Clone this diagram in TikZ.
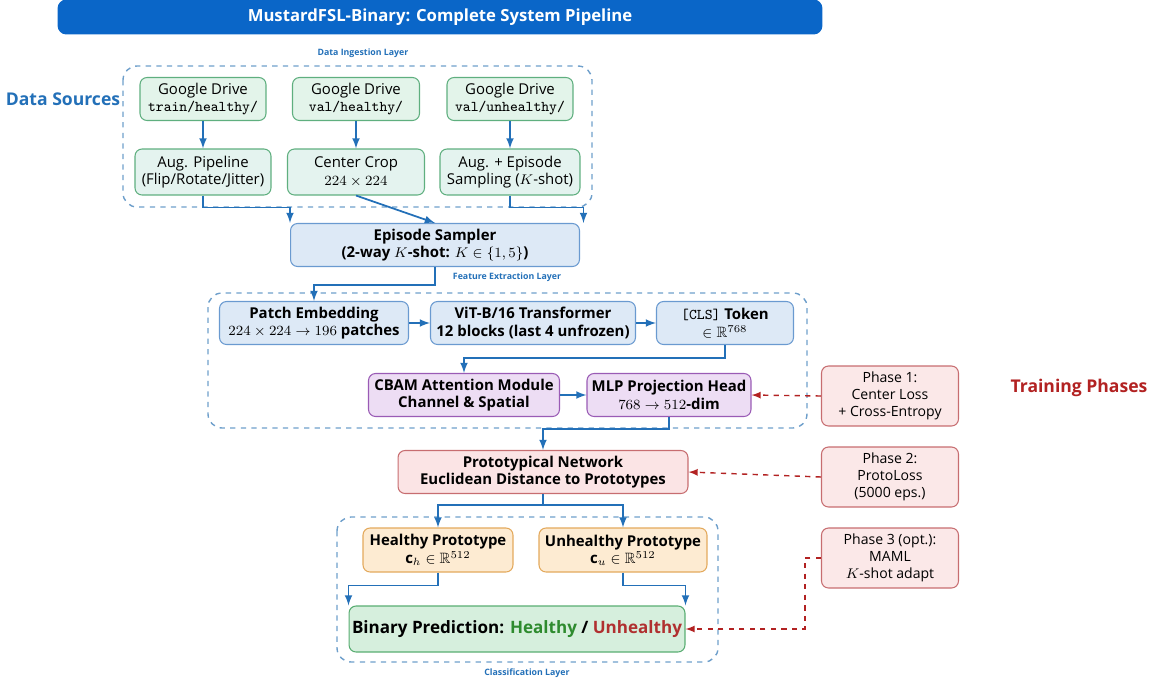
\documentclass[tikz,border=0pt]{standalone}
\usepackage{amssymb}
\usepackage{fontspec}
\setmainfont{Open Sans}
\usetikzlibrary{arrows}

\definecolor{titleblue}{HTML}{0A66C8}
\definecolor{flowblue}{HTML}{2370B8}
\definecolor{layerblue}{HTML}{6E9FCB}
\definecolor{phasered}{HTML}{B22222}
\definecolor{goodgreen}{HTML}{2E8B2E}
\definecolor{badred}{HTML}{B03030}
\definecolor{srcfill}{HTML}{E3F4EA}
\definecolor{srcline}{HTML}{5FAF7F}
\definecolor{prepfill}{HTML}{E4F3EF}
\definecolor{featfill}{HTML}{DDE9F6}
\definecolor{featline}{HTML}{6A9AD0}
\definecolor{attnfill}{HTML}{EDDDF4}
\definecolor{attnline}{HTML}{9A5BB5}
\definecolor{protofill}{HTML}{FBE4E5}
\definecolor{protoline}{HTML}{C76D70}
\definecolor{cprotofill}{HTML}{FDEBD2}
\definecolor{cprotoline}{HTML}{E3A95C}
\definecolor{predfill}{HTML}{D6EFDD}
\definecolor{predline}{HTML}{59AD72}
\definecolor{phasefill}{HTML}{FBE8E8}

\begin{document}
\begin{tikzpicture}[x=0.02cm, y=-0.02cm, font=\fontsize{8.5}{10}\selectfont]
    \tikzset{box/.style = {shape=rectangle, rounded corners=4pt, draw, line width=0.6pt, align=center, inner sep=1pt}}
    \tikzset{src/.style = {box, draw=srcline, fill=srcfill, minimum height=0.86cm}}
    \tikzset{prep/.style = {box, draw=srcline, fill=prepfill, minimum height=0.92cm}}
    \tikzset{feat/.style = {box, draw=featline, fill=featfill, minimum height=0.86cm, font=\fontsize{8.5}{10}\selectfont\bfseries}}
    \tikzset{attn/.style = {box, draw=attnline, fill=attnfill, minimum height=0.86cm, font=\fontsize{8.5}{10}\selectfont\bfseries}}
    \tikzset{proto/.style = {box, draw=protoline, fill=protofill, minimum height=0.86cm, font=\fontsize{8.5}{10}\selectfont\bfseries}}
    \tikzset{cproto/.style = {box, draw=cprotoline, fill=cprotofill, minimum height=0.88cm, font=\fontsize{8.5}{10}\selectfont\bfseries}}
    \tikzset{phase/.style = {box, draw=protoline, fill=phasefill, minimum width=2.74cm, minimum height=1.2cm, font=\fontsize{8}{9.5}\selectfont}}
    \tikzset{layer/.style = {draw=layerblue, dashed, line width=0.8pt, rounded corners=8pt}}
    \tikzset{layername/.style = {text=flowblue, font=\fontsize{5}{6}\selectfont\bfseries}}
    \tikzset{flow/.style = {draw=flowblue, line width=1pt, -latex}}
    \tikzset{train/.style = {draw=phasered, line width=0.8pt, dashed, -latex}}

    \useasboundingbox (0,0) rectangle (1160,683);

    % title
    \node[shape=rectangle, rounded corners=5pt, fill=titleblue, text=white, minimum width=15.3cm, minimum height=0.7cm, font=\fontsize{9.5}{11}\selectfont\bfseries] (title) at (440,17) {MustardFSL-Binary: Complete System Pipeline};

    % layers
    \draw[layer] (123,66) rectangle (592,207);
    \draw[layer] (208,293) rectangle (807,428);
    \draw[layer] (337,517) rectangle (718,662);
    \node[layername] (ingest) at (363,53) {Data Ingestion Layer};
    \node[layername] (extract) at (507,277) {Feature Extraction Layer};
    \node[layername] (classify) at (527,673) {Classification Layer};
    \node[text=flowblue, font=\fontsize{10}{12}\selectfont\bfseries] (sources) at (63,99) {Data Sources};
    \node[text=phasered, font=\fontsize{10}{12}\selectfont\bfseries] (phases) at (1079,388) {Training Phases};

    % vertices
    \node[src, minimum width=2.52cm] (g1) at (203,99) {Google Drive\\\texttt{train/healthy/}};
    \node[src, minimum width=2.54cm] (g2) at (356,99) {Google Drive\\\texttt{val/healthy/}};
    \node[src, minimum width=2.52cm] (g3) at (510,99) {Google Drive\\\texttt{val/unhealthy/}};
    \node[prep, minimum width=2.72cm] (a1) at (203,172) {Aug. Pipeline\\(Flip/Rotate/Jitter)};
    \node[prep, minimum width=2.74cm] (a2) at (356,172) {Center Crop\\$224\times224$};
    \node[prep, minimum width=2.8cm] (a3) at (510,172) {Aug. + Episode\\Sampling ($K$-shot)};
    \node[feat, minimum width=5.78cm] (sampler) at (435,245) {Episode Sampler\\(2-way $K$-shot: $K\in\{1,5\}$)};
    \node[feat, minimum width=3.78cm] (patch) at (314,323) {Patch Embedding\\$224\times224\to196$ patches};
    \node[feat, minimum width=4.1cm] (vit) at (533,323) {ViT-B/16 Transformer\\12 blocks (last 4 unfrozen)};
    \node[feat, minimum width=2.74cm] (cls) at (725,323) {\texttt{\mdseries[CLS]} Token\\$\in\mathbb{R}^{768}$};
    \node[attn, minimum width=3.82cm] (cbam) at (464,395) {CBAM Attention Module\\Channel \& Spatial};
    \node[attn, minimum width=3.28cm] (mlp) at (669,395) {MLP Projection Head\\$768\to512$-dim};
    \node[proto, minimum width=5.8cm] (net) at (543,472) {Prototypical Network\\Euclidean Distance to Prototypes};
    \node[cproto, minimum width=3cm] (healthy) at (438,550) {Healthy Prototype\\$\mathbf{c}_h\in\mathbb{R}^{512}$};
    \node[cproto, minimum width=3.36cm] (unhealthy) at (623,550) {Unhealthy Prototype\\$\mathbf{c}_u\in\mathbb{R}^{512}$};
    \node[box, draw=predline, fill=predfill, minimum width=6.72cm, minimum height=0.92cm, font=\fontsize{9.7}{12}\selectfont\bfseries] (binary) at (517,629) {Binary Prediction: \textcolor{goodgreen}{Healthy} / \textcolor{badred}{Unhealthy}};
    \node[phase] (p1) at (890,396) {Phase 1:\\Center Loss\\+ Cross-Entropy};
    \node[phase] (p2) at (890,477) {Phase 2:\\ProtoLoss\\(5000 eps.)};
    \node[phase] (p3) at (890,558) {Phase 3 (opt.):\\MAML\\$K$-shot adapt};

    % edges
    \draw[flow] (g1) to (a1);
    \draw[flow] (g2) to (a2);
    \draw[flow] (g3) to (a3);
    \draw[flow] (a1.south) -- ++(0,12) -| (sampler.north west);
    \draw[flow] (a2.south) -- (sampler.north);
    \draw[flow] (a3.south) -- ++(0,12) -| ([xshift=2pt]sampler.north east);
    \draw[flow] (sampler.south) -- ++(0,18) -| (patch.north);
    \draw[flow] (patch) to (vit);
    \draw[flow] (vit) to (cls);
    \draw[flow] (cls.south) -- ++(0,13) -| (cbam.north);
    \draw[flow] (cbam) to (mlp);
    \draw[flow] (mlp.south) -- ++(0,12) -| (net.north);
    \draw[flow] (net.south) -- ++(0,11) -| (healthy.north);
    \draw[flow] (net.south) -- ++(0,11) -| (unhealthy.north);
    \draw[flow] (healthy.south) -- ++(0,13) -| (binary.north west);
    \draw[flow] (unhealthy.south) -- ++(0,13) -| (binary.north east);
    \draw[train] (p1.west) -- (mlp.east);
    \draw[train] (p2.west) -- (net.east);
    \draw[train] (p3.west) -- ++(-16,0) |- (binary.east);
\end{tikzpicture}
\end{document}
